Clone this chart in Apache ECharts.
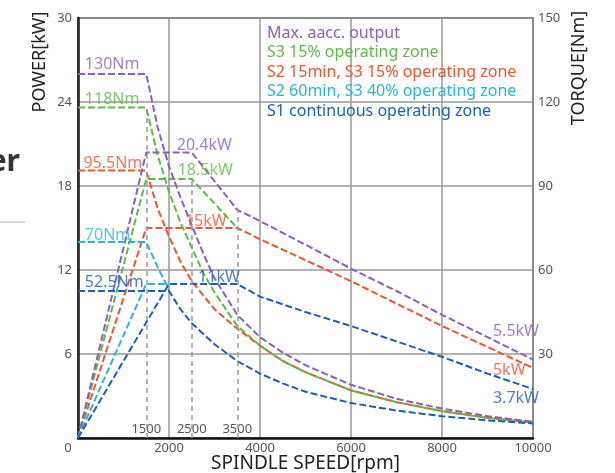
<!DOCTYPE html>
<html lang="en">
<head>
<meta charset="UTF-8">
<script src="https://cdn.jsdelivr.net/npm/echarts@6/dist/echarts.min.js"></script>
<style>
  html, body { margin: 0; padding: 0; background: #fff; }
  #chart { width: 615px; height: 473px; }
</style>
</head>
<body>
<div id="chart"></div>
<script>
  // speed [rpm] -> power [kW] / torque [Nm]
  var maxPower   = [[0,0],[1500,20.4],[2500,20.4],[3500,16.3],[4000,15.5],[5000,13.8],[6000,12.1],[7000,10.5],[8000,8.8],[9000,7.2],[10000,5.6]];
  var maxTorque  = [[0,130],[1500,130],[1750,111],[2000,97],[2250,86],[2500,76],[2750,66],[3000,57],[3500,44],[4000,36],[4500,30.5],[5000,26],[6000,19],[7000,14],[8000,10.5],[9000,7.8],[10000,5.8]];
  var s3Power    = [[0,0],[1500,18.5],[2500,18.5],[3500,15]];
  var s3Torque   = [[0,118],[1500,118],[1750,101],[2000,88],[2250,77],[2500,68],[2750,59],[3000,52],[3500,40],[4000,33],[4500,27.5],[5000,23.5],[6000,17],[7000,12.8],[8000,9.6],[9000,7.2],[10000,5.5]];
  var s2Power    = [[0,0],[1500,15],[3500,15],[4000,14.2],[5000,12.7],[6000,11.2],[7000,9.6],[8000,8.0],[9000,6.5],[10000,5.0]];
  var s2Torque   = [[0,95.5],[1500,95.5],[1750,82],[2000,72],[2250,63],[2500,56],[2750,51],[3000,46],[3500,39],[4000,33],[4500,27.5],[5000,23.5],[6000,17],[7000,12.8],[8000,9.6],[9000,7.2],[10000,5.5]];
  var s2bPower   = [[0,0],[1500,11],[2000,11]];
  var s2bTorque  = [[0,70],[1500,70],[1750,61],[2000,53]];
  var s1Power    = [[0,0],[2000,11],[3500,11],[4000,10.1],[5000,9.0],[6000,8.0],[7000,6.9],[8000,5.8],[9000,4.6],[10000,3.5]];
  var s1Torque   = [[0,52.5],[2000,52.5],[2250,46],[2500,41],[3000,33.5],[3500,27.5],[4000,23],[4500,19.5],[5000,16.5],[6000,12.5],[7000,9.8],[8000,7.8],[9000,6.3],[10000,5.2]];

  var zoneNames = ['Max. aacc. output','S3 15% operating zone','S2 15min, S3 15% operating zone','S2 60min, S3 40% operating zone','S1 continuous operating zone'];
  var zoneColors = ['#8c5fbc','#5cbd45','#f4532e','#2ab4dc','#1f5dbb'];

  var guideSpeeds = [1500, 2500, 3500];
  var guideTops = [23.6, 18.5, 16.3];

  // annotation anchors (speed, kW) : left edge of each text
  var notes = [
    [150, 26.7, '130Nm', 0],
    [150, 24.2, '118Nm', 1],
    [120, 19.6, '95.5Nm', 2],
    [150, 14.5, '70Nm', 3],
    [150, 11.1, '52.5Nm', 4],
    [2170, 20.9, '20.4kW', 0],
    [2190, 19.1, '18.5kW', 1],
    [2350, 15.5, '15kW', 2],
    [2640, 11.5, '11kW', 4],
    [9120, 7.6, '5.5kW', 0],
    [9120, 4.85, '5kW', 2],
    [9120, 2.85, '3.7kW', 4]
  ];

  var font = 'Noto Sans';
  var chart = echarts.init(document.getElementById('chart'));

  function curve(name, data, color, axis) {
    return {
      name: name,
      type: 'line',
      yAxisIndex: axis,
      data: data,
      symbol: 'none',
      lineStyle: { color: color, width: 2, type: [7, 3] },
      itemStyle: { color: color },
      z: 3
    };
  }

  var series = [];
  // gray dashed guide lines at the corner speeds
  series.push({
    type: 'line',
    data: [],
    markLine: {
      silent: true,
      symbol: 'none',
      label: { show: false },
      lineStyle: { color: '#9a9a9a', width: 1.5, type: [5, 4] },
      data: guideSpeeds.map(function (s, i) {
        return [{ coord: [s, 0] }, { coord: [s, guideTops[i]] }];
      })
    }
  });

  series.push(curve(zoneNames[2], s2Power, zoneColors[2], 0));
  series.push(curve(zoneNames[2], s2Torque, zoneColors[2], 1));
  series.push(curve(zoneNames[1], s3Power, zoneColors[1], 0));
  series.push(curve(zoneNames[1], s3Torque, zoneColors[1], 1));
  series.push(curve(zoneNames[0], maxPower, zoneColors[0], 0));
  series.push(curve(zoneNames[0], maxTorque, zoneColors[0], 1));
  series.push(curve(zoneNames[3], s2bPower, zoneColors[3], 0));
  series.push(curve(zoneNames[3], s2bTorque, zoneColors[3], 1));
  series.push(curve(zoneNames[4], s1Power, zoneColors[4], 0));
  series.push(curve(zoneNames[4], s1Torque, zoneColors[4], 1));

  // text notes on the curves
  series.push({
    type: 'scatter',
    symbolSize: 0,
    clip: false,
    silent: true,
    z: 5,
    data: notes.map(function (n) {
      return {
        value: [n[0], n[1]],
        label: {
          show: true, position: 'right', distance: 0,
          formatter: n[2], color: zoneColors[n[3]],
          fontSize: 16, fontFamily: font
        }
      };
    })
  });

  var option = {
    backgroundColor: '#fff',
    animation: false,
    grid: {
      left: 78, right: 82, top: 18, bottom: 35,
      outerBoundsMode: 'none',
      show: true, borderColor: '#333', borderWidth: 1.5
    },
    legend: {
      orient: 'vertical',
      left: 262, top: 25,
      icon: 'none',
      itemWidth: 0, itemHeight: 16, itemGap: 3.5,
      padding: 0,
      selectedMode: false,
      textStyle: { fontSize: 16, fontFamily: font },
      data: zoneNames.map(function (n, i) {
        return { name: n, textStyle: { color: zoneColors[i] } };
      })
    },
    xAxis: [
      {
        type: 'value', min: 0, max: 10000, interval: 2000,
        name: 'SPINDLE SPEED[rpm]', nameLocation: 'middle', nameGap: 16,
        nameMoveOverlap: false,
        nameTextStyle: { fontSize: 19, color: '#222', fontFamily: font },
        axisLine: { lineStyle: { color: '#111', width: 2.5 } },
        axisTick: { show: false },
        axisLabel: {
          color: '#555', fontSize: 13, fontFamily: font, margin: 4,
          formatter: function (v) { return v === 0 ? '{z|0}' : String(v); },
          rich: { z: { padding: [0, 20, 0, 0], fontSize: 13, color: '#555', fontFamily: font } }
        },
        splitLine: { lineStyle: { color: '#9a9a9a', width: 1.5 } }
      },
      {
        type: 'value', min: 0, max: 10000, position: 'bottom',
        axisLine: { show: false },
        axisTick: { show: false },
        splitLine: { show: false },
        axisLabel: {
          inside: true, margin: 2, customValues: guideSpeeds,
          formatter: function (v) { return String(v); },
          color: '#555', fontSize: 13, fontFamily: font
        }
      }
    ],
    yAxis: [
      {
        type: 'value', min: 0, max: 30, interval: 6, position: 'left',
        axisLine: { show: true, lineStyle: { color: '#111', width: 2.5 } },
        axisTick: { show: false },
        axisLabel: {
          color: '#555', fontSize: 13, fontFamily: font, margin: 6,
          formatter: function (v) { return v === 0 ? '' : v; }
        },
        splitLine: { lineStyle: { color: '#9a9a9a', width: 1.5 } }
      },
      {
        type: 'value', min: 0, max: 150, interval: 30, position: 'right',
        axisLine: { show: true, lineStyle: { color: '#333', width: 1.5 } },
        axisTick: { show: false },
        axisLabel: {
          color: '#555', fontSize: 13, fontFamily: font, margin: 5,
          formatter: function (v) { return v === 0 ? '' : v; }
        },
        splitLine: { show: false }
      }
    ],
    graphic: [
      { type: 'text', x: 40, y: 62, rotation: Math.PI / 2,
        style: { text: 'POWER[kW]', align: 'center', verticalAlign: 'middle', fontSize: 18, fill: '#222', fontFamily: font } },
      { type: 'text', x: 579, y: 68, rotation: Math.PI / 2,
        style: { text: 'TORQUE[Nm]', align: 'center', verticalAlign: 'middle', fontSize: 18, fill: '#222', fontFamily: font } },
      { type: 'text', x: 20, y: 162,
        style: { text: 'er', align: 'right', verticalAlign: 'middle', fontSize: 30, fontWeight: 'bold', fill: '#333', fontFamily: font } },
      { type: 'line', shape: { x1: 0, y1: 222, x2: 25, y2: 222 }, style: { stroke: '#aaa', lineWidth: 1 } }
    ],
    series: series
  };

  chart.setOption(option);
</script>
</body>
</html>
